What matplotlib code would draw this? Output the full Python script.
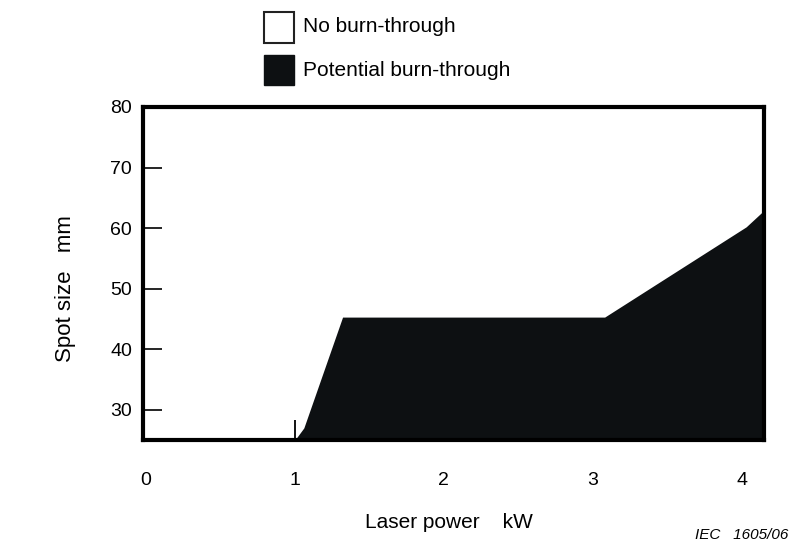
import matplotlib
matplotlib.use("Agg")
import matplotlib.pyplot as plt
from matplotlib.patches import Rectangle

plt.rcParams['font.family'] = ['Liberation Sans', 'DejaVu Sans']

# boundary between the two regions (laser power kW, spot size mm)
power = [-0.02, 1.0, 1.06, 1.32, 3.08, 4.03, 4.14, 4.15]
spot = [25, 25, 27.0, 45.3, 45.3, 60.2, 62.7, 62.7]

x_ticks = [0, 1, 2, 3, 4]
y_ticks = [30, 40, 50, 60, 70, 80]
legend_labels = ['No burn-through', 'Potential burn-through']
# short mark at 1 kW on the power axis
mark_x = 1
mark_top = 28.3

dark = '#0d1012'

fig = plt.figure(figsize=(7.93, 5.49), dpi=100)
ax = fig.add_axes([143 / 793, 1 - 440 / 549, 621 / 793, 333 / 549])

ax.fill_between(power, spot, 25, color=dark, linewidth=0)
ax.vlines(mark_x, 25, mark_top, color='black', linewidth=1.3)

ax.set_xlim(-0.02, 4.15)
ax.set_ylim(25, 80)

ax.set_xticks(x_ticks)
ax.set_yticks(y_ticks)
ax.tick_params(axis='x', length=0, pad=23, labelsize=14)
ax.tick_params(axis='y', direction='in', length=14, width=1.2, pad=8, labelsize=14)

for s in ax.spines.values():
    s.set_linewidth(3)
    s.set_color('black')

ax.set_xlabel('Laser power    kW', fontsize=15)
ax.xaxis.set_label_coords(0.493, -0.22)
fig.text(66 / 793, 1 - 289 / 549, 'Spot size   mm', rotation=90,
         ha='center', va='center', fontsize=16)

fig.text(788 / 793, 1 - 535 / 549, 'IEC   1605/06', style='italic',
         ha='right', va='center', fontsize=11)

# legend
fig.add_artist(Rectangle((264 / 793, 1 - 43 / 549), 30 / 793, 31 / 549,
                         transform=fig.transFigure, facecolor='white',
                         edgecolor='#222222', linewidth=1.5))
fig.add_artist(Rectangle((264 / 793, 1 - 85 / 549), 30 / 793, 30 / 549,
                         transform=fig.transFigure, facecolor=dark,
                         edgecolor=dark, linewidth=1))
fig.text(303 / 793, 1 - 27 / 549, legend_labels[0], va='center', fontsize=15)
fig.text(303 / 793, 1 - 70 / 549, legend_labels[1], va='center', fontsize=15)

fig.savefig('out.png', dpi=100)
